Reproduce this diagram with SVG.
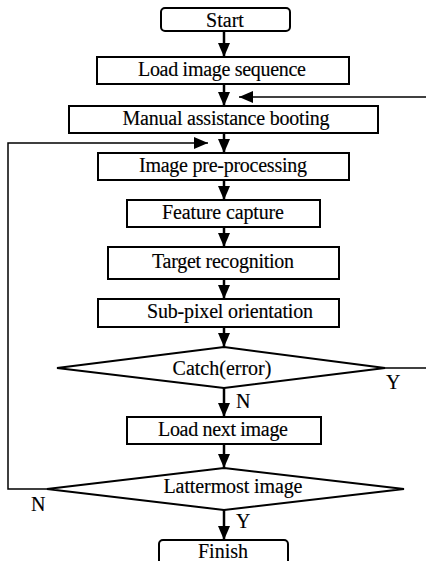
<svg xmlns="http://www.w3.org/2000/svg" width="426" height="561" viewBox="0 0 426 561" font-family="'Liberation Serif', 'Times New Roman', serif">
<defs>
<marker id="ah" markerWidth="14" markerHeight="12" refX="14" refY="6" orient="auto" markerUnits="userSpaceOnUse">
<path d="M0,0 L14,6 L0,12 Z" fill="#000"/>
</marker>
<style>
.b{fill:#fff;stroke:#000;stroke-width:2}
text{font-family:'Liberation Serif','Times New Roman',serif;font-size:20px;fill:#000;stroke:#000;stroke-width:0.15}
.t{text-anchor:middle}
.c{fill:none;stroke:#000;stroke-width:2.5}
.w{fill:none;stroke:#000;stroke-width:1.5}
</style>
</defs>
<rect width="426" height="561" fill="#fff"/>
<g id="connectors">
<line class="c" x1="224" y1="31" x2="224" y2="57" marker-end="url(#ah)"/>
<line class="c" x1="224" y1="84" x2="224" y2="106" marker-end="url(#ah)"/>
<line class="w" x1="426" y1="97" x2="239" y2="97" marker-end="url(#ah)"/>
<line class="c" x1="224" y1="133" x2="224" y2="153" marker-end="url(#ah)"/>
<polyline class="w" points="47,489 8,489 8,143 208,143" marker-end="url(#ah)"/>
<line class="c" x1="224" y1="180" x2="224" y2="200" marker-end="url(#ah)"/>
<line class="c" x1="224" y1="227" x2="224" y2="247" marker-end="url(#ah)"/>
<line class="c" x1="224" y1="279" x2="224" y2="299" marker-end="url(#ah)"/>
<line class="c" x1="224" y1="327" x2="224" y2="347" marker-end="url(#ah)"/>
<line class="w" x1="385" y1="368" x2="426" y2="368"/>
<line class="c" x1="224" y1="388" x2="224" y2="417" marker-end="url(#ah)"/>
<line class="c" x1="224" y1="444" x2="224" y2="468" marker-end="url(#ah)"/>
<line class="c" x1="224" y1="510" x2="224" y2="540" marker-end="url(#ah)"/>
<text x="386" y="389">Y</text>
<text x="236" y="408">N</text>
<text x="31" y="511">N</text>
<text x="236" y="528">Y</text>
</g>
<g id="start"><rect class="b" x="161" y="8" width="129" height="23" rx="4"/><text class="t" x="225" y="27">Start</text></g>
<g id="load"><rect class="b" x="97" y="57" width="252" height="27"/><text class="t" x="222" y="76" textLength="168">Load image sequence</text></g>
<g id="manual"><rect class="b" x="69" y="106" width="309" height="27"/><text class="t" x="226" y="125" textLength="207">Manual assistance booting</text></g>
<g id="pre"><rect class="b" x="98" y="153" width="251" height="27"/><text class="t" x="223" y="172" textLength="168">Image pre-processing</text></g>
<g id="feature"><rect class="b" x="127" y="200" width="193" height="27"/><text class="t" x="223" y="219" textLength="122">Feature capture</text></g>
<g id="target"><rect class="b" x="108" y="247" width="231" height="32"/><text class="t" x="223" y="268" textLength="142">Target recognition</text></g>
<g id="subpixel"><rect class="b" x="98" y="299" width="241" height="28"/><text class="t" x="230" y="318" textLength="166">Sub-pixel orientation</text></g>
<g id="catch"><polygon class="b" points="224,347 385,368 224,388 57,368"/><text class="t" x="222" y="375">Catch(error)</text></g>
<g id="next"><rect class="b" x="127" y="417" width="194" height="27"/><text class="t" x="223" y="436" textLength="130">Load next image</text></g>
<g id="latter"><polygon class="b" points="224,468 404,489 224,510 47,489"/><text class="t" x="233" y="493" textLength="139">Lattermost image</text></g>
<g id="finish"><rect class="b" x="159" y="540" width="129" height="30" rx="4"/><text class="t" x="223" y="558">Finish</text></g>
</svg>
